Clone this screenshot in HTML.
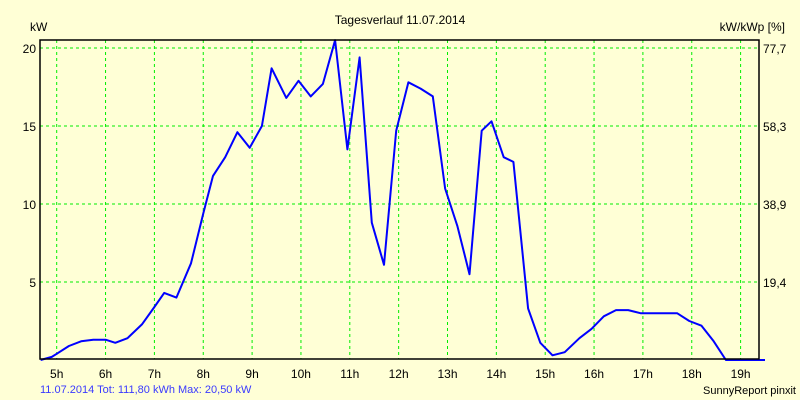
<!DOCTYPE html>
<html><head><meta charset="utf-8"><style>
html,body{margin:0;padding:0;background:#ffffd6;}
svg{display:block;font-family:"Liberation Sans",sans-serif;}
</style></head><body>
<svg width="800" height="400" viewBox="0 0 800 400">
<rect x="0" y="0" width="800" height="400" fill="#ffffd6"/>
<text x="400" y="24" text-anchor="middle" font-size="12" fill="#000">Tagesverlauf 11.07.2014</text>
<text x="30" y="31" font-size="12" fill="#000">kW</text>
<text x="785" y="31" text-anchor="end" font-size="12" fill="#000">kW/kWp [%]</text>
<g id="grid"></g>
<g id="ticks"></g>
<path id="line" fill="none" stroke="#0000ff" stroke-width="2" stroke-linejoin="round"/>
<rect x="40" y="40" width="719" height="319" fill="none" stroke="#000" stroke-width="1.5"/>
<text x="40" y="393" font-size="11" fill="#3a3aff">11.07.2014 Tot: 111,80 kWh Max: 20,50 kW</text>
<text x="796" y="394" text-anchor="end" font-size="11" fill="#000">SunnyReport pinxit</text>
</svg>
<script>
const hours = [5,6,7,8,9,10,11,12,13,14,15,16,17,18,19];
const leftTicks = [5,10,15,20];
const rightTickLabels = ["19,4","38,9","58,3","77,7"];
const times = [4.67,4.9,5.0,5.25,5.5,5.75,6.0,6.2,6.45,6.75,7.0,7.2,7.45,7.75,8.0,8.2,8.45,8.7,8.95,9.2,9.4,9.7,9.95,10.2,10.45,10.7,10.95,11.2,11.45,11.7,11.95,12.2,12.45,12.7,12.95,13.2,13.45,13.7,13.9,14.15,14.35,14.65,14.9,15.15,15.4,15.7,15.95,16.2,16.45,16.7,16.95,17.2,17.45,17.7,17.95,18.2,18.45,18.7,19.5];
const power = [0,0.2,0.4,0.9,1.2,1.3,1.3,1.1,1.4,2.3,3.4,4.3,4.0,6.2,9.4,11.8,13.0,14.6,13.6,15.0,18.7,16.8,17.9,16.9,17.7,20.5,13.5,19.4,8.8,6.1,14.7,17.8,17.4,16.9,11.0,8.6,5.5,14.7,15.3,13.0,12.7,3.3,1.1,0.3,0.5,1.4,2.0,2.8,3.2,3.2,3.0,3.0,3.0,3.0,2.5,2.2,1.2,0,0];
const NS="http://www.w3.org/2000/svg";
function xs(h){return 56.7+(h-5)*48.85;}
function ys(v){return 360-v*15.6;}
const grid=document.getElementById('grid'), ticks=document.getElementById('ticks');
hours.forEach(h=>{
  const l=document.createElementNS(NS,'line');
  l.setAttribute('x1',xs(h));l.setAttribute('x2',xs(h));l.setAttribute('y1',40);l.setAttribute('y2',359);
  l.setAttribute('stroke','#00ee00');l.setAttribute('stroke-dasharray','3,3');
  
  
  grid.appendChild(l);
  const t=document.createElementNS(NS,'text');
  t.setAttribute('x',xs(h));t.setAttribute('y',378);t.setAttribute('text-anchor','middle');t.setAttribute('font-size','12');
  t.textContent=h+'h';
  
  
  ticks.appendChild(t);
});
leftTicks.forEach((v,i)=>{
  const l=document.createElementNS(NS,'line');
  l.setAttribute('x1',40);l.setAttribute('x2',759);l.setAttribute('y1',ys(v));l.setAttribute('y2',ys(v));
  l.setAttribute('stroke','#00ee00');l.setAttribute('stroke-dasharray','3,3');
  
  
  grid.appendChild(l);
  const t=document.createElementNS(NS,'text');
  t.setAttribute('x',36);t.setAttribute('y',ys(v)+5);t.setAttribute('text-anchor','end');t.setAttribute('font-size','12');
  t.textContent=v;
  
  
  ticks.appendChild(t);
  const r=document.createElementNS(NS,'text');
  r.setAttribute('x',763);r.setAttribute('y',ys(v)+5);r.setAttribute('font-size','12');
  r.textContent=rightTickLabels[i];
  
  
  ticks.appendChild(r);
});
document.getElementById('line').setAttribute('d',times.map((t,i)=>(i?'L':'M')+xs(t).toFixed(1)+','+ys(power[i]).toFixed(1)).join(' '));
</script>
</body></html>
